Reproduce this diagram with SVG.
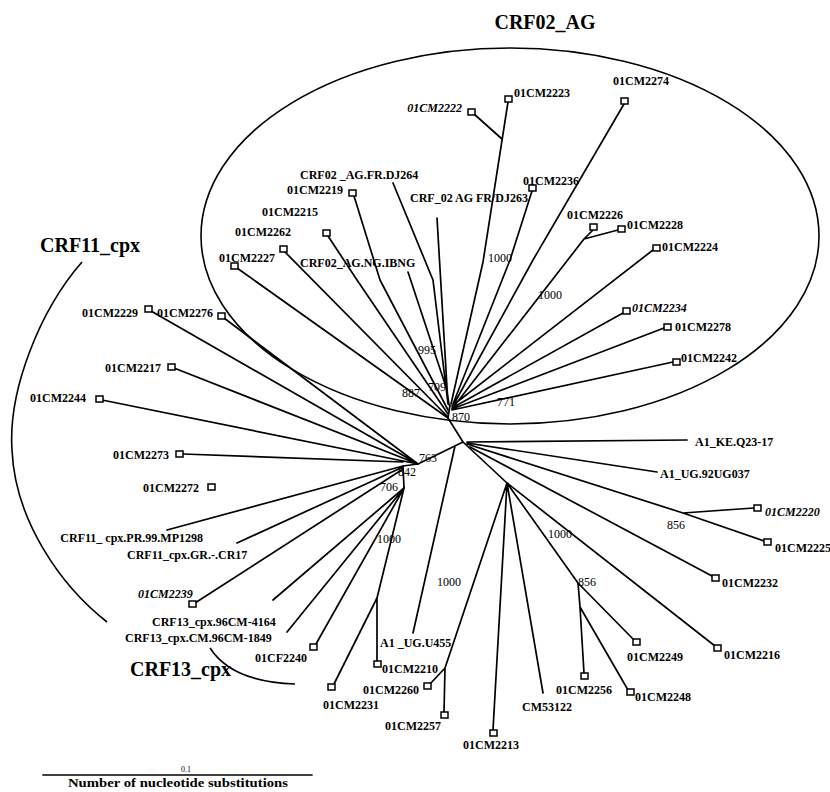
<svg xmlns="http://www.w3.org/2000/svg" width="830" height="792" viewBox="0 0 830 792">
<style>
.lb{font-family:"Liberation Serif",serif;font-size:12px;font-weight:bold;fill:#000}
.it{font-style:italic}
.bs{font-family:"Liberation Serif",serif;font-size:12px;fill:#000}
.big{font-family:"Liberation Serif",serif;font-size:20px;font-weight:bold;fill:#000}
.bx{fill:#fff;stroke:#000;stroke-width:1.5}
.ed{fill:none;stroke:#000;stroke-width:1.7;stroke-linecap:round;stroke-linejoin:round}
.gr{fill:none;stroke:#000;stroke-width:1.6}
</style>
<rect width="830" height="792" fill="#fff"/>
<g id="groups">
<ellipse class="gr" cx="510" cy="236" rx="309" ry="188"/>
<path class="gr" d="M82,262 C40,310 8,390 12,450 C15,520 60,585 107,622"/>
<path class="gr" d="M210,648 Q232,682 295,684"/>
<text class="big" x="545" y="29" text-anchor="middle">CRF02_AG</text>
<text class="big" x="40" y="252">CRF11_cpx</text>
<text class="big" x="130" y="676">CRF13_cpx</text>
</g>
<g id="connectors">
<path class="ed" d="M450,405 L448,418 L463,442 M418,464 L463,442 M403,466 L418,464 M404,488 L403,466 M463,442 L507,483"/>
<path class="ed" d="M508,102 L483,262 L451,404 M474,114 L502,139 M532,191 L510,260 L453,404 M624,104 L533,260 L454,404 M593,230 L584,239 L618,230 M584,239 L455,405 M653,250 L452,406 M623,313 L452,408 M664,328 L452,409 M673,362 L452,410"/>
<path class="ed" d="M393,183 L433,280 L448,404 M437,218 L448,404 M408,272 L447,390 L449,405 M354,196 L380,280 L448,410 M328,236 L357,280 L448,414 M285,252 L448,417 M237,268 L448,418"/>
<path class="ed" d="M151,311 L418,464 M224,318 L418,464 M174,368 L418,464 M102,400 L418,464 M183,454 L403,462 M167,530 L403,466 M237,543 L403,467 M195,603 L403,469"/>
<path class="ed" d="M273,600 L404,488 M287,632 L404,488 M316,644 L404,488 M377,598 L404,488 M377,598 L334,684 M377,598 L377,661 M413,633 L455,446"/>
<path class="ed" d="M507,483 L445,668 L430,684 M445,668 L444,712 M507,483 L493,730 M507,483 L543,693 M507,483 L578,583 L634,640 M578,583 L580,607 L584,673 M580,607 L628,690 M507,483 L715,646"/>
<path class="ed" d="M470,447 L712,576 M467,444 L683,513 L754,508 M683,513 L764,541 M467,442 L687,440 M467,443 L657,472"/>
<path class="ed" d="M43,775 L312,775"/>
</g>
<g id="bootstrap">
<text class="bs" x="488" y="262">1000</text>
<text class="bs" x="538" y="299">1000</text>
<text class="bs" x="418" y="354">995</text>
<text class="bs" x="428" y="391">709</text>
<text class="bs" x="402" y="397">887</text>
<text class="bs" x="452" y="421">870</text>
<text class="bs" x="497" y="406">771</text>
<text class="bs" x="419" y="462">763</text>
<text class="bs" x="398" y="476">842</text>
<text class="bs" x="380" y="491">706</text>
<text class="bs" x="377" y="543">1000</text>
<text class="bs" x="437" y="586">1000</text>
<text class="bs" x="548" y="538">1000</text>
<text class="bs" x="578" y="586">856</text>
<text class="bs" x="667" y="529">856</text>
</g>
<g id="n2222"><rect class="bx" x="468" y="109" width="7" height="6"/><text class="lb it" x="462" y="112" text-anchor="end">01CM2222</text></g>
<g id="n2223"><rect class="bx" x="505" y="96" width="7" height="6"/><text class="lb" x="514" y="97">01CM2223</text></g>
<g id="n2274"><rect class="bx" x="621" y="98" width="7" height="6"/><text class="lb" x="613" y="85">01CM2274</text></g>
<g id="n2236"><rect class="bx" x="529" y="185" width="7" height="6"/><text class="lb" x="523" y="185">01CM2236</text></g>
<g id="nDJ263"><text class="lb" x="528" y="202" text-anchor="end">CRF_02 AG FR/DJ263</text></g>
<g id="nDJ264"><text class="lb" x="300" y="179">CRF02 _AG.FR.DJ264</text></g>
<g id="n2219"><rect class="bx" x="349" y="190" width="7" height="6"/><text class="lb" x="343" y="194" text-anchor="end">01CM2219</text></g>
<g id="n2215"><rect class="bx" x="323" y="230" width="7" height="6"/><text class="lb" x="262" y="216">01CM2215</text></g>
<g id="n2262"><rect class="bx" x="280" y="246" width="7" height="6"/><text class="lb" x="235" y="236">01CM2262</text></g>
<g id="n2227"><rect class="bx" x="231" y="263" width="7" height="6"/><text class="lb" x="219" y="262">01CM2227</text></g>
<g id="nIBNG"><text class="lb" x="300" y="267">CRF02_AG.NG.IBNG</text></g>
<g id="n2226"><rect class="bx" x="590" y="224" width="7" height="6"/><text class="lb" x="567" y="219">01CM2226</text></g>
<g id="n2228"><rect class="bx" x="618" y="226" width="7" height="6"/><text class="lb" x="627" y="229">01CM2228</text></g>
<g id="n2224"><rect class="bx" x="653" y="245" width="7" height="6"/><text class="lb" x="662" y="251">01CM2224</text></g>
<g id="n2234"><rect class="bx" x="623" y="308" width="7" height="6"/><text class="lb it" x="632" y="312">01CM2234</text></g>
<g id="n2278"><rect class="bx" x="664" y="324" width="7" height="6"/><text class="lb" x="675" y="331">01CM2278</text></g>
<g id="n2242"><rect class="bx" x="673" y="359" width="7" height="6"/><text class="lb" x="681" y="362">01CM2242</text></g>
<g id="n2229"><rect class="bx" x="145" y="306" width="7" height="6"/><text class="lb" x="82" y="317">01CM2229</text></g>
<g id="n2276"><rect class="bx" x="218" y="313" width="7" height="6"/><text class="lb" x="157" y="317">01CM2276</text></g>
<g id="n2217"><rect class="bx" x="168" y="364" width="7" height="6"/><text class="lb" x="105" y="372">01CM2217</text></g>
<g id="n2244"><rect class="bx" x="96" y="396" width="7" height="6"/><text class="lb" x="30" y="402">01CM2244</text></g>
<g id="n2273"><rect class="bx" x="176" y="451" width="7" height="6"/><text class="lb" x="113" y="459">01CM2273</text></g>
<g id="n2272"><rect class="bx" x="208" y="484" width="7" height="6"/><text class="lb" x="143" y="492">01CM2272</text></g>
<g id="nMP1298"><text class="lb" x="203" y="542" text-anchor="end">CRF11_ cpx.PR.99.MP1298</text></g>
<g id="nCR17"><text class="lb" x="127" y="559">CRF11_cpx.GR.-.CR17</text></g>
<g id="n2239"><rect class="bx" x="189" y="601" width="7" height="6"/><text class="lb it" x="138" y="598">01CM2239</text></g>
<g id="n4164"><text class="lb" x="152" y="626">CRF13_cpx.96CM-4164</text></g>
<g id="n1849"><text class="lb" x="125" y="642">CRF13_cpx.CM.96CM-1849</text></g>
<g id="n2240"><rect class="bx" x="310" y="644" width="7" height="6"/><text class="lb" x="307" y="662" text-anchor="end">01CF2240</text></g>
<g id="n2231"><rect class="bx" x="328" y="684" width="7" height="6"/><text class="lb" x="323" y="709">01CM2231</text></g>
<g id="n2210"><rect class="bx" x="374" y="661" width="7" height="6"/><text class="lb" x="382" y="673">01CM2210</text></g>
<g id="nU455"><text class="lb" x="380" y="647">A1 _UG.U455</text></g>
<g id="n2260"><rect class="bx" x="424" y="683" width="7" height="6"/><text class="lb" x="363" y="694">01CM2260</text></g>
<g id="n2257"><rect class="bx" x="441" y="712" width="7" height="6"/><text class="lb" x="385" y="730">01CM2257</text></g>
<g id="n2213"><rect class="bx" x="490" y="730" width="7" height="6"/><text class="lb" x="463" y="749">01CM2213</text></g>
<g id="nCM53122"><text class="lb" x="522" y="711">CM53122</text></g>
<g id="n2249"><rect class="bx" x="633" y="639" width="7" height="6"/><text class="lb" x="627" y="661">01CM2249</text></g>
<g id="n2256"><rect class="bx" x="581" y="673" width="7" height="6"/><text class="lb" x="556" y="694">01CM2256</text></g>
<g id="n2248"><rect class="bx" x="627" y="689" width="7" height="6"/><text class="lb" x="635" y="701">01CM2248</text></g>
<g id="n2216"><rect class="bx" x="714" y="645" width="7" height="6"/><text class="lb" x="724" y="659">01CM2216</text></g>
<g id="n2232"><rect class="bx" x="712" y="575" width="7" height="6"/><text class="lb" x="722" y="587">01CM2232</text></g>
<g id="n2220"><rect class="bx" x="754" y="505" width="7" height="6"/><text class="lb it" x="765" y="516">01CM2220</text></g>
<g id="n2225"><rect class="bx" x="764" y="539" width="7" height="6"/><text class="lb" x="775" y="552">01CM2225</text></g>
<g id="nA1KE"><text class="lb" x="695" y="446">A1_KE.Q23-17</text></g>
<g id="nA1UG"><text class="lb" x="660" y="478">A1_UG.92UG037</text></g>
<g id="scale">
<text class="bs" x="186" y="772" text-anchor="middle" style="font-size:8px">0.1</text>
<text class="lb" x="68" y="787" textLength="220" lengthAdjust="spacingAndGlyphs">Number of nucleotide substitutions</text>
</g>
</svg>
